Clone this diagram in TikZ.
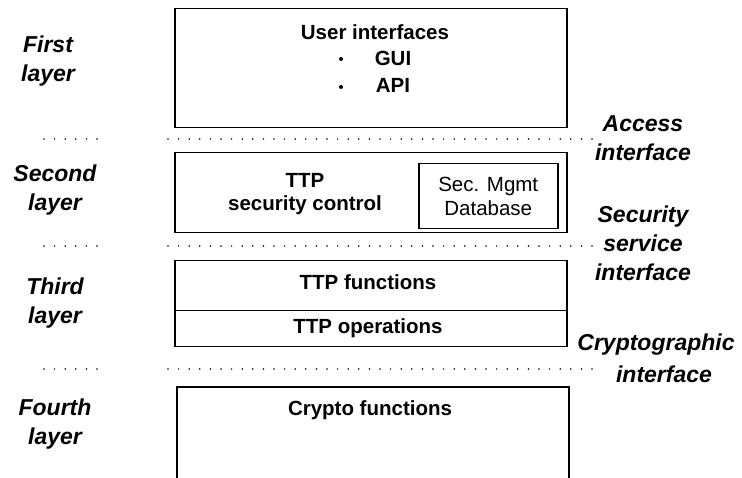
\documentclass[tikz,border=0pt]{standalone}
\usepackage{fontspec}
\setmainfont{Liberation Sans}
\begin{document}
\begin{tikzpicture}[x=1pt,y=-1pt,
  box/.style={draw, line width=1.5pt, anchor=north west, inner sep=0pt},
  btxt/.style={font=\fontsize{20.5}{22}\selectfont\bfseries, inner sep=0pt},
  rtxt/.style={font=\fontsize{20.5}{24}\selectfont, inner sep=0pt, align=center},
  lbl/.style={font=\fontsize{23}{29}\selectfont\bfseries\itshape, inner sep=0pt, align=center},
  dotline/.style={line width=1.7pt, dash pattern=on 0pt off 10.6pt, line cap=round}]
\useasboundingbox (0,0) rectangle (742,478);
% layer boxes
\node[box, minimum width=392pt, minimum height=119pt] (ui) at (174,8) {};
\node[box, minimum width=392pt, minimum height=80pt] (sec) at (174,152) {};
\node[box, minimum width=139pt, minimum height=65pt] (db) at (418,163) {};
\node[box, minimum width=392pt, minimum height=50pt] (fun) at (174,260) {};
\node[box, minimum width=392pt, minimum height=36pt] (ops) at (174,310) {};
% open-bottom crypto box
\coordinate (c1) at (177,480);
\coordinate (c2) at (177,387);
\coordinate (c3) at (569,387);
\coordinate (c4) at (569,480);
\draw[line width=1.5pt] (c1) -- (c2) -- (c3) -- (c4);
% box texts
\node[btxt] (uit) at (375,32) {User interfaces};
\node[btxt] (gui) at (393,58) {GUI};
\node[btxt] (api) at (393,85) {API};
\fill (341,59) circle (2pt);
\fill (341,87) circle (2pt);
\node[btxt] (ttp) at (305,180) {TTP};
\node[btxt] (ttpsc) at (305,205) {security control};
\node[rtxt] (dbt) at (db.center) {Sec. Mgmt\\Database};
\node[btxt] (funt) at (368,282) {TTP functions};
\node[btxt] (opst) at (368,328) {TTP operations};
\node[btxt] (cryt) at (370,410) {Crypto functions};
% layer names
\node[lbl] (l1) at (48,61) {First\\layer};
\node[lbl] (l2) at (55,190) {Second\\layer};
\node[lbl] (l3) at (55,303) {Third\\layer};
\node[lbl] (l4) at (55,424) {Fourth\\layer};
% interface names
\node[lbl] (i1) at (643,138) {Access\\interface};
\node[lbl] (i2) at (643,243) {Security\\service\\interface};
\node[lbl] (i3a) at (656,345) {Cryptographic};
\node[lbl] (i3b) at (664,374) {interface};
% layer boundaries
\foreach \yy/\n in {139/a,246/b,369/c}{
  \coordinate (s\n) at (44,\yy);
  \coordinate (t\n) at (106,\yy);
  \coordinate (u\n) at (168,\yy);
  \coordinate (v\n) at (594,\yy);
  \draw[dotline] (s\n) -- (t\n);
  \draw[dotline] (u\n) -- (v\n);
}
\end{tikzpicture}
\end{document}
